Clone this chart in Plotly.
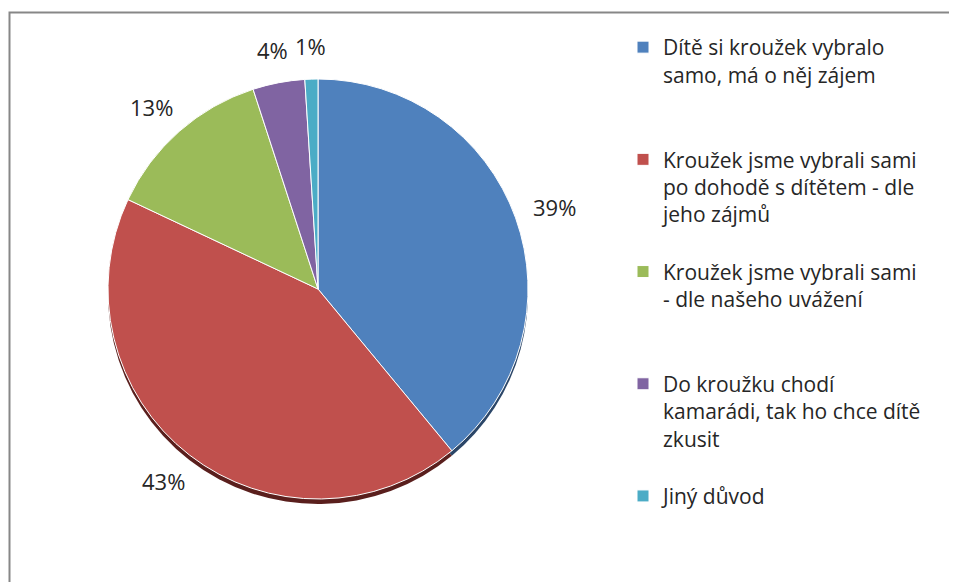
import math
import plotly.graph_objects as go

# ---- data ----
categories = [
    "Dítě si kroužek vybralo<br>samo, má o něj zájem",
    "Kroužek jsme vybrali sami<br>po dohodě s dítětem - dle<br>jeho zájmů",
    "Kroužek jsme vybrali sami<br>- dle našeho uvážení",
    "Do kroužku chodí<br>kamarádi, tak ho chce dítě<br>zkusit",
    "Jiný důvod",
]
values = [39, 43, 13, 4, 1]

colors = ["#4F81BD", "#C0504D", "#9BBB59", "#8064A2", "#4BACC6"]
shadow_colors = ["#2b4668", "#5a1f1d", "#56682f", "#443358", "#2a6172"]

# figure size (page body has an 8px margin, so the figure is shrunk by 8px)
W, H = 949, 574
FONT = "'Open Sans', Lato, sans-serif"
LEG_SIZE = 21
LBL_SIZE = 22

# pad legend labels (all but the last) to the same number of lines so items are evenly spaced
N_LINES = 4
legend_labels = []
for i, c in enumerate(categories):
    n = c.count("<br>") + 1
    pad = 0 if i == len(categories) - 1 else N_LINES - n
    legend_labels.append(c + "<br> " * pad)

# pie geometry (figure pixels)
cx, cy, r = 310, 281, 210
dx0, dx1 = (cx - r) / W, (cx + r) / W
dy0, dy1 = (H - cy - r) / H, (H - cy + r) / H
sh = 5 / H

fig = go.Figure()

# shadow pie (3D-ish rim underneath)
fig.add_trace(go.Pie(
    labels=legend_labels,
    values=values,
    sort=False,
    direction="clockwise",
    rotation=0,
    marker=dict(colors=shadow_colors, line=dict(color="rgba(0,0,0,0)", width=0)),
    textinfo="none",
    hoverinfo="skip",
    showlegend=False,
    domain=dict(x=[dx0, dx1], y=[dy0 - sh, dy1 - sh]),
))

# main pie
fig.add_trace(go.Pie(
    labels=legend_labels,
    values=values,
    sort=False,
    direction="clockwise",
    rotation=0,
    marker=dict(colors=colors, line=dict(color="#ffffff", width=1)),
    textinfo="none",
    showlegend=True,
    domain=dict(x=[dx0, dx1], y=[dy0, dy1]),
))

# percentage labels placed just outside each slice's mid-angle
total = sum(values)
annotations = []
cum = 0
gap = 22
for v in values:
    theta = 2 * math.pi * (cum + v / 2) / total
    cum += v
    ux, uy = math.sin(theta), -math.cos(theta)  # screen coords (y down)
    txt = f"{round(100 * v / total)}%"
    hw = len(txt) * 0.3 * LBL_SIZE
    hh = 0.5 * LBL_SIZE
    px = cx + (r + gap) * ux + hw * ux
    py = cy + (r + gap) * uy + hh * uy
    annotations.append(dict(
        x=px / W, y=1 - py / H, xref="paper", yref="paper",
        text=txt, showarrow=False, xanchor="center", yanchor="middle",
        font=dict(family=FONT, size=LBL_SIZE, color="#262626"),
    ))

fig.update_layout(
    width=W,
    height=H,
    margin=dict(l=0, r=0, t=0, b=0),
    paper_bgcolor="#ffffff",
    plot_bgcolor="#ffffff",
    font=dict(family=FONT, size=LEG_SIZE, color="#262626"),
    legend=dict(
        x=615 / W,
        y=1 - 19 / H,
        xanchor="left",
        yanchor="top",
        valign="top",
        bgcolor="rgba(0,0,0,0)",
        font=dict(family=FONT, size=LEG_SIZE, color="#262626"),
        traceorder="normal",
    ),
    annotations=annotations,
    shapes=[
        dict(
            type="rect", xref="paper", yref="paper",
            x0=1.5 / W, x1=1.05, y0=-0.05, y1=1 - 4.5 / H,
            line=dict(color="#878787", width=2),
            fillcolor="rgba(0,0,0,0)",
            layer="below",
        )
    ],
)

fig.write_html("out.html")
